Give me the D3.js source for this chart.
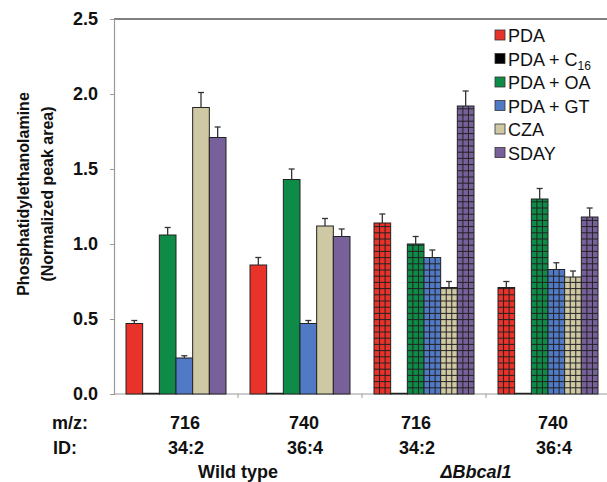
<!DOCTYPE html>
<html><head><meta charset="utf-8">
<script src="https://cdn.jsdelivr.net/npm/d3@7"></script>
<style>
html,body{margin:0;padding:0;background:#fff;}
text{font-family:Arial,"Liberation Sans",Helvetica,sans-serif;}
</style></head>
<body><svg id="chart" width="607" height="482"></svg>
<script>
// ---- data ----
const groups = ["WT716", "WT740", "KO716", "KO740"];
const mzLabels = ["716", "740", "716", "740"];
const idLabels = ["34:2", "36:4", "34:2", "36:4"];
const hatched = [false, false, true, true];
const seriesNames = ["PDA", "PDA + C16", "PDA + OA", "PDA + GT", "CZA", "SDAY"];
const seriesColors = ["#E8322A", "#000000", "#0E8B47", "#5079C6", "#CFC8A4", "#78619A"];
const valPDA  = [0.47, 0.86, 1.14, 0.71];
const valC16  = [0.005, 0.005, 0.005, 0.005];
const valOA   = [1.06, 1.43, 1.00, 1.30];
const valGT   = [0.24, 0.47, 0.91, 0.83];
const valCZA  = [1.91, 1.12, 0.71, 0.78];
const valSDAY = [1.71, 1.05, 1.92, 1.18];
const errPDA  = [0.02, 0.05, 0.06, 0.04];
const errC16  = [0, 0, 0, 0];
const errOA   = [0.05, 0.07, 0.05, 0.07];
const errGT   = [0.015, 0.02, 0.05, 0.045];
const errCZA  = [0.10, 0.05, 0.04, 0.04];
const errSDAY = [0.07, 0.05, 0.10, 0.06];
const yTicks = [0, 0.5, 1.0, 1.5, 2.0, 2.5];
const groupTitles = ["Wild type", "\u0394Bbcal1"];

const values = [valPDA, valC16, valOA, valGT, valCZA, valSDAY];
const errors = [errPDA, errC16, errOA, errGT, errCZA, errSDAY];

(function () {
// ---- layout ----
const svg = d3.select("#chart");
const pLeft = 114, pRight = 610, pTop = 19, pBottom = 394;
const y = d3.scaleLinear().domain([0, 2.5]).range([pBottom, pTop]);
const x0 = d3.scaleBand().domain(groups).range([pLeft, pRight]).padding(0);
const x1 = d3.scaleBand().domain(d3.range(seriesNames.length)).range([12, x0.bandwidth() - 12]).padding(0);
const bw = x1.bandwidth();

// top frame line
svg.append("line").attr("x1", pLeft).attr("x2", 607).attr("y1", pTop).attr("y2", pTop)
  .attr("stroke", "#555").attr("stroke-width", 1.5);

// y axis
const yAxis = d3.axisLeft(y).tickValues(yTicks).tickFormat(d3.format(".1f")).tickSize(4).tickPadding(12);
const gy = svg.append("g").attr("transform", `translate(${pLeft},0)`).call(yAxis);
gy.select(".domain").attr("stroke", "#999").attr("stroke-width", 1.2);
gy.selectAll(".tick line").attr("stroke", "#999");
gy.selectAll(".tick text").attr("font-size", 18).attr("font-weight", "bold").attr("fill", "#111")
  .attr("font-family", "Arial, 'Liberation Sans', sans-serif");

// x axis line with ticks at group boundaries
svg.append("line").attr("x1", pLeft).attr("x2", 607).attr("y1", pBottom).attr("y2", pBottom)
  .attr("stroke", "#999").attr("stroke-width", 1.2);
svg.selectAll(".xtick").data(groups.slice(1)).enter().append("line")
  .attr("x1", d => x0(d)).attr("x2", d => x0(d)).attr("y1", pBottom).attr("y2", pBottom + 4)
  .attr("stroke", "#999");

// bars
const barData = [];
groups.forEach((g, gi) => {
  seriesNames.forEach((s, si) => {
    barData.push({g, gi, si, v: values[si][gi], e: errors[si][gi], hatch: hatched[gi]});
  });
});
const bars = svg.append("g");
bars.selectAll("rect").data(barData).enter().append("rect")
  .attr("x", d => x0(d.g) + x1(d.si))
  .attr("y", d => y(d.v))
  .attr("width", bw)
  .attr("height", d => pBottom - y(d.v))
  .attr("fill", d => seriesColors[d.si])
  .attr("stroke", "#222").attr("stroke-width", 1);

// grid pattern for hatched bars
const gridG = svg.append("g");
barData.filter(d => d.hatch && d.v > 0.05).forEach(d => {
  const bx = x0(d.g) + x1(d.si), by = y(d.v);
  let p = "";
  for (let k = 1; k < 3; k++) { const xx = bx + k * bw / 3; p += `M${xx},${by}V${pBottom}`; }
  const cell = 6.2;
  for (let yy = pBottom - cell; yy > by + 1; yy -= cell) { p += `M${bx},${yy}H${bx + bw}`; }
  gridG.append("path").attr("d", p).attr("stroke", "#222").attr("stroke-width", 1).attr("fill", "none");
});

// error bars
const eb = svg.append("g").attr("stroke", "#333").attr("stroke-width", 1.3);
barData.filter(d => d.e > 0).forEach(d => {
  const cx = x0(d.g) + x1(d.si) + bw / 2;
  eb.append("line").attr("x1", cx).attr("x2", cx).attr("y1", y(d.v)).attr("y2", y(d.v + d.e));
  eb.append("line").attr("x1", cx - 3).attr("x2", cx + 3).attr("y1", y(d.v + d.e)).attr("y2", y(d.v + d.e));
});

// y title
const yt = svg.append("text").attr("transform", "translate(29,194) rotate(-90)")
  .attr("text-anchor", "middle").attr("font-size", 16).attr("font-weight", "bold").attr("fill", "#111");
yt.append("tspan").attr("x", 0).attr("y", 0).text("Phosphatidylethanolamine");
yt.append("tspan").attr("x", 0).attr("y", 24).text("(Normalized peak area)");

// x labels
const labelDx = [9, 4, -8, 5];
svg.append("text").attr("x", 52).attr("y", 429).attr("font-size", 18).attr("font-weight", "bold").attr("fill", "#111").text("m/z:");
svg.append("text").attr("x", 53).attr("y", 454).attr("font-size", 18).attr("font-weight", "bold").attr("fill", "#111").text("ID:");
svg.selectAll(".mz").data(groups).enter().append("text")
  .attr("x", (d, i) => x0(d) + x0.bandwidth() / 2 + labelDx[i]).attr("y", 429)
  .attr("text-anchor", "middle").attr("font-size", 18).attr("font-weight", "bold").attr("fill", "#111")
  .text((d, i) => mzLabels[i]);
svg.selectAll(".id").data(groups).enter().append("text")
  .attr("x", (d, i) => x0(d) + x0.bandwidth() / 2 + labelDx[i] + 1).attr("y", 454)
  .attr("text-anchor", "middle").attr("font-size", 18).attr("font-weight", "bold").attr("fill", "#111")
  .text((d, i) => idLabels[i]);
svg.append("text").attr("x", x0(groups[1])).attr("y", 478).attr("text-anchor", "middle")
  .attr("font-size", 18).attr("font-weight", "bold").attr("fill", "#111").text(groupTitles[0]);
svg.append("text").attr("x", x0(groups[3]) - 10).attr("y", 478).attr("text-anchor", "middle")
  .attr("font-size", 18).attr("font-weight", "bold").attr("font-style", "italic").attr("fill", "#111").text(groupTitles[1]);

// legend
const leg = svg.append("g").attr("transform", "translate(495,30)");
seriesNames.forEach((s, i) => {
  const g = leg.append("g").attr("transform", `translate(0,${i * 23.5})`);
  g.append("rect").attr("x", 0).attr("y", 0).attr("width", 10).attr("height", 10)
    .attr("fill", seriesColors[i]).attr("stroke", "#333").attr("stroke-width", 0.8);
  const t = g.append("text").attr("x", 13).attr("y", 12).attr("font-size", 18).attr("fill", "#111");
  if (s === "PDA + C16") {
    t.append("tspan").text("PDA + C");
    t.append("tspan").attr("font-size", 12).attr("dy", 4).text("16");
  } else {
    t.text(s);
  }
});
})();
</script>
</body></html>
